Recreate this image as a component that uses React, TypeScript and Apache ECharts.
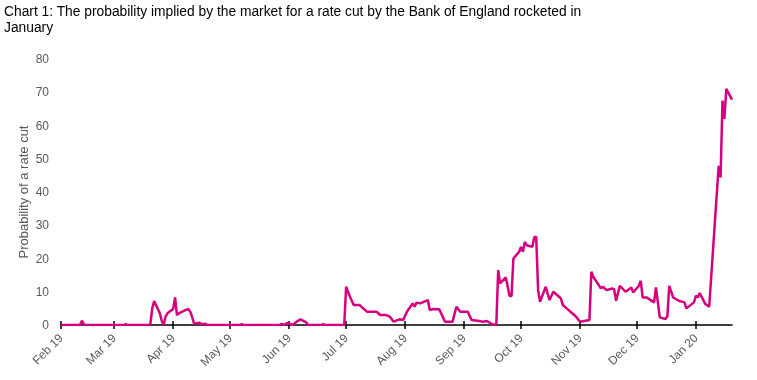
import { useEffect, useRef } from 'react';
import * as echarts from 'echarts';

const TITLE =
  'Chart 1: The probability implied by the market for a rate cut by the Bank of England rocketed in\nJanuary';
const Y_NAME = 'Probability of a rate cut';

const TICK_DATES = [
  '2019-02-01', '2019-03-01', '2019-04-01', '2019-05-01', '2019-06-01', '2019-07-01',
  '2019-08-01', '2019-09-01', '2019-10-01', '2019-11-01', '2019-12-01', '2020-01-01',
];
const TICK_LABELS = [
  'Feb 19', 'Mar 19', 'Apr 19', 'May 19', 'Jun 19', 'Jul 19',
  'Aug 19', 'Sep 19', 'Oct 19', 'Nov 19', 'Dec 19', 'Jan 20',
];
const X_MIN = '2019-02-01';
const X_MAX = '2020-01-20';
const Y_MIN = 0;
const Y_MAX = 80;
const Y_STEP = 10;

const DATES = [
  '2019-02-01', '2019-02-08', '2019-02-11', '2019-02-12', '2019-02-13', '2019-02-14',
  '2019-03-06', '2019-03-07', '2019-03-08', '2019-03-19', '2019-03-20', '2019-03-21',
  '2019-03-22', '2019-03-25', '2019-03-26', '2019-03-27', '2019-03-28', '2019-03-29',
  '2019-04-01', '2019-04-02', '2019-04-03', '2019-04-04', '2019-04-05', '2019-04-08',
  '2019-04-09', '2019-04-10', '2019-04-11', '2019-04-12', '2019-04-15', '2019-04-16',
  '2019-04-18', '2019-04-19', '2019-05-06', '2019-05-07', '2019-05-08', '2019-05-27',
  '2019-05-28', '2019-05-29', '2019-05-31', '2019-06-03', '2019-06-05', '2019-06-07',
  '2019-06-10', '2019-06-11', '2019-06-18', '2019-06-19', '2019-06-20', '2019-06-30',
  '2019-07-01', '2019-07-03', '2019-07-05', '2019-07-08', '2019-07-10', '2019-07-12',
  '2019-07-17', '2019-07-19', '2019-07-22', '2019-07-24', '2019-07-26', '2019-07-29',
  '2019-07-31', '2019-08-02', '2019-08-05', '2019-08-06', '2019-08-07', '2019-08-09',
  '2019-08-13', '2019-08-14', '2019-08-16', '2019-08-19', '2019-08-20', '2019-08-22',
  '2019-08-26', '2019-08-28', '2019-08-30', '2019-09-03', '2019-09-05', '2019-09-09',
  '2019-09-11', '2019-09-13', '2019-09-16', '2019-09-18', '2019-09-19', '2019-09-20',
  '2019-09-23', '2019-09-25', '2019-09-26', '2019-09-27', '2019-09-30', '2019-10-01',
  '2019-10-02', '2019-10-03', '2019-10-04', '2019-10-07', '2019-10-08', '2019-10-09',
  '2019-10-10', '2019-10-11', '2019-10-14', '2019-10-16', '2019-10-18', '2019-10-21',
  '2019-10-22', '2019-10-23', '2019-10-25', '2019-10-29', '2019-10-30', '2019-11-01',
  '2019-11-04', '2019-11-06', '2019-11-07', '2019-11-08', '2019-11-12', '2019-11-13',
  '2019-11-15', '2019-11-18', '2019-11-19', '2019-11-20', '2019-11-22', '2019-11-25',
  '2019-11-27', '2019-11-28', '2019-11-29', '2019-12-02', '2019-12-03', '2019-12-04',
  '2019-12-06', '2019-12-10', '2019-12-11', '2019-12-13', '2019-12-16', '2019-12-17',
  '2019-12-18', '2019-12-20', '2019-12-23', '2019-12-26', '2019-12-27', '2019-12-31',
  '2020-01-01', '2020-01-02', '2020-01-03', '2020-01-06', '2020-01-08', '2020-01-13',
  '2020-01-14', '2020-01-15', '2020-01-16', '2020-01-17', '2020-01-20',
];

const VALUES = [
  0, 0, 0, 1.3, 0.3, 0,
  0, 0.3, 0, 0, 0.3, 5.0,
  7.2, 3.5, 1.2, 0, 2.5, 3.5,
  4.8, 8.3, 3.0, 3.5, 3.8, 4.6,
  4.8, 4.0, 2.4, 0.4, 0.7, 0.2,
  0.4, 0, 0, 0.3, 0, 0,
  0.4, 0, 0.6, 0, 1.0, 1.7,
  0.8, 0, 0, 0.3, 0, 0,
  11.5, 8.5, 6, 6, 5, 4,
  4, 3, 3, 2.5, 1, 1.7,
  1.5, 4, 6.5, 5.5, 6.7, 6.5,
  7.5, 4.5, 4.8, 4.7, 3.5, 1,
  1, 5.5, 4, 4, 1.5, 1.2,
  1.0, 1.2, 0.2, 0, 16.5, 12.5,
  14.3, 8.7, 8.7, 20, 22, 23.5,
  22, 25, 24, 23.5, 26.5, 26.5,
  10.5, 7, 11.5, 7.5, 10, 8.5,
  8, 6, 5, 3, 2.5, 1,
  1.3, 1.5, 16, 14.5, 11, 11.5,
  10.5, 11, 10.8, 7.3, 11.8, 10,
  10.8, 11.3, 9.8, 11.8, 13.3, 8.3,
  8.3, 6.8, 11.3, 2.3, 1.8, 2.6,
  11.8, 8.3, 7.3, 6.8, 5, 6.8,
  8.8, 8.3, 9.6, 6.3, 5.5, 47.9,
  44.4, 67.5, 62, 71, 67.8,
];

const FONT = '"Liberation Sans", Arial, Helvetica, sans-serif';

function toTime(s: string): number {
  const [y, m, d] = s.split('-').map(Number);
  return Date.UTC(y, m - 1, d);
}

export default function App() {
  const ref = useRef<HTMLDivElement>(null);

  useEffect(() => {
    if (!ref.current) return;
    const chart = echarts.init(ref.current, null, { renderer: 'svg' });
    const tickTimes = TICK_DATES.map(toTime);
    const data = DATES.map((d, i) => [toTime(d), VALUES[i]]);
    const fmt = (v: number) => {
      const i = tickTimes.indexOf(v);
      return i >= 0 ? TICK_LABELS[i] : '';
    };
    const xMin = toTime(X_MIN);
    const xMax = toTime(X_MAX);

    chart.setOption({
      animation: false,
      title: {
        text: TITLE,
        left: 4,
        top: 3,
        padding: 0,
        textStyle: {
          fontFamily: FONT,
          fontSize: 13.8,
          fontWeight: 'normal',
          color: '#000',
          lineHeight: 16,
        },
      },
      grid: {
        left: 61,
        right: 25,
        top: 59,
        bottom: 55,
        containLabel: false,
        outerBoundsMode: 'none',
      },
      xAxis: [
        {
          type: 'value',
          min: xMin,
          max: xMax,
          axisLine: { show: true, lineStyle: { color: '#000', width: 1.5 } },
          axisTick: {
            show: true,
            length: 4,
            customValues: tickTimes,
            lineStyle: { color: '#000', width: 1.5 },
          },
          axisLabel: {
            customValues: tickTimes,
            rotate: 45,
            formatter: fmt,
            color: '#595959',
            fontSize: 12,
            fontFamily: FONT,
            margin: 11,
            showMinLabel: true,
            showMaxLabel: true,
          },
          splitLine: { show: false },
        },
        {
          type: 'value',
          min: xMin,
          max: xMax,
          position: 'bottom',
          axisLine: { show: false },
          axisTick: {
            show: true,
            inside: true,
            length: 4,
            customValues: tickTimes,
            lineStyle: { color: '#000', width: 1.5 },
          },
          axisLabel: { show: false },
          splitLine: { show: false },
        },
      ],
      yAxis: {
        type: 'value',
        min: Y_MIN,
        max: Y_MAX,
        interval: Y_STEP,
        name: Y_NAME,
        nameLocation: 'middle',
        nameGap: 31,
        nameMoveOverlap: false,
        nameTextStyle: { color: '#595959', fontSize: 13, fontFamily: FONT },
        axisLine: { show: false },
        axisTick: { show: false },
        splitLine: { show: false },
        axisLabel: { color: '#595959', fontSize: 12, fontFamily: FONT, margin: 12 },
      },
      series: [
        {
          type: 'line',
          xAxisIndex: 0,
          data,
          showSymbol: false,
          symbol: 'none',
          lineStyle: { color: '#d6007e', width: 2.5 },
          z: 3,
        },
      ],
    });
    return () => chart.dispose();
  }, []);

  return (
    <div
      ref={ref}
      style={{ position: 'fixed', left: 0, top: 0, width: 757, height: 380 }}
    />
  );
}
